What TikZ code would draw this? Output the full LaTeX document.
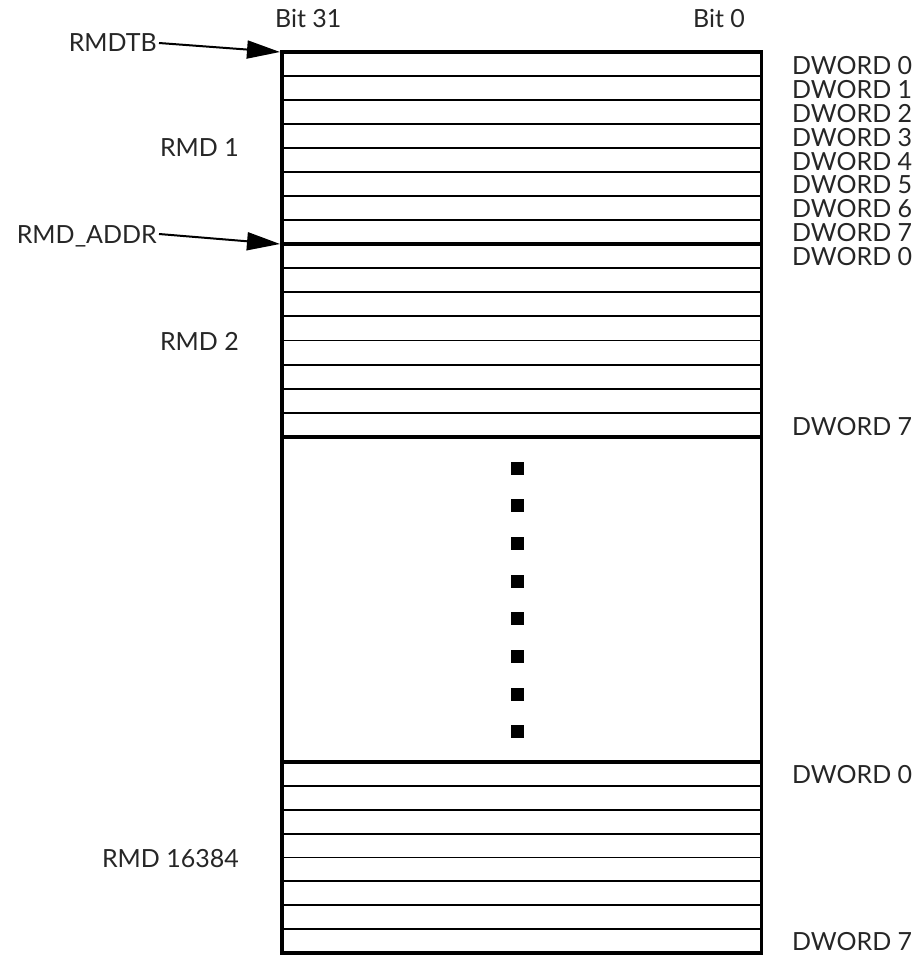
\documentclass[tikz,border=0pt]{standalone}
\usepackage{fontspec}
\setmainfont{Lato}
\usetikzlibrary{arrows.meta}
\begin{document}
\begin{tikzpicture}[x=1pt,y=-1pt,
  lbl/.style={inner sep=0pt,font=\fontsize{25}{25}\selectfont,text=black!85},
  ptr/.style={inner sep=2pt,font=\fontsize{25}{25}\selectfont,text=black!85,text height=18pt,text depth=0pt},
  outer/.style={line width=3.6pt},
  thin/.style={line width=1.8pt},
  ptrline/.style={line width=2pt,-{Triangle[length=33pt,width=18pt]}},
  dot/.style={fill=black,minimum size=13pt,inner sep=0pt}]
\useasboundingbox (0,0) rectangle (919,955);
% rows
\foreach \k in {1,...,7}{
  \draw[thin] (281.7,{52+\k*24.0}) -- (761.3,{52+\k*24.0});
  \draw[thin] (281.7,{244+\k*24.125}) -- (761.3,{244+\k*24.125});
  \draw[thin] (281.7,{762+\k*23.875}) -- (761.3,{762+\k*23.875});
}
\draw[outer] (281.7,244) -- (761.3,244);
\draw[outer] (281.7,437) -- (761.3,437);
\draw[outer] (281.7,762) -- (761.3,762);
\draw[outer] (281.7,52) rectangle (761.3,953);
% dots
\foreach \k in {0,...,7}{
  \node[dot] (d\k) at (517,{468+\k*37.7}) {};
}
% bit labels
\node[lbl,anchor=base west] (b31) at (275,28) {Bit 31};
\node[lbl,anchor=base west] (b0) at (693,28) {Bit 0};
% pointers
\coordinate (tipA) at (280,52);
\coordinate (tipB) at (280,244);
\node[ptr,anchor=base east] (rmdtb) at (159,52) {RMDTB};
\node[ptr,anchor=base east] (rmdaddr) at (159,243) {RMD\_ADDR};
\draw[ptrline] (rmdtb.east) -- (tipA);
\draw[ptrline] (rmdaddr.east) -- (tipB);
% RMD labels
\node[lbl,anchor=base east] (rmd1) at (239,157) {RMD 1};
\node[lbl,anchor=base east] (rmd2) at (239,350) {RMD 2};
\node[lbl,anchor=base east] (rmdn) at (239,867) {RMD 16384};
% DWORD labels
\foreach \k in {0,...,7}{
  \node[lbl,anchor=base west] (dw\k) at (792,{75+\k*23.75}) {DWORD \k};
}
\node[lbl,anchor=base west] (dwb0) at (792,265) {DWORD 0};
\node[lbl,anchor=base west] (dwb7) at (792,435) {DWORD 7};
\node[lbl,anchor=base west] (dwc0) at (792,783) {DWORD 0};
\node[lbl,anchor=base west] (dwc7) at (792,950.5) {DWORD 7};
\end{tikzpicture}
\end{document}
